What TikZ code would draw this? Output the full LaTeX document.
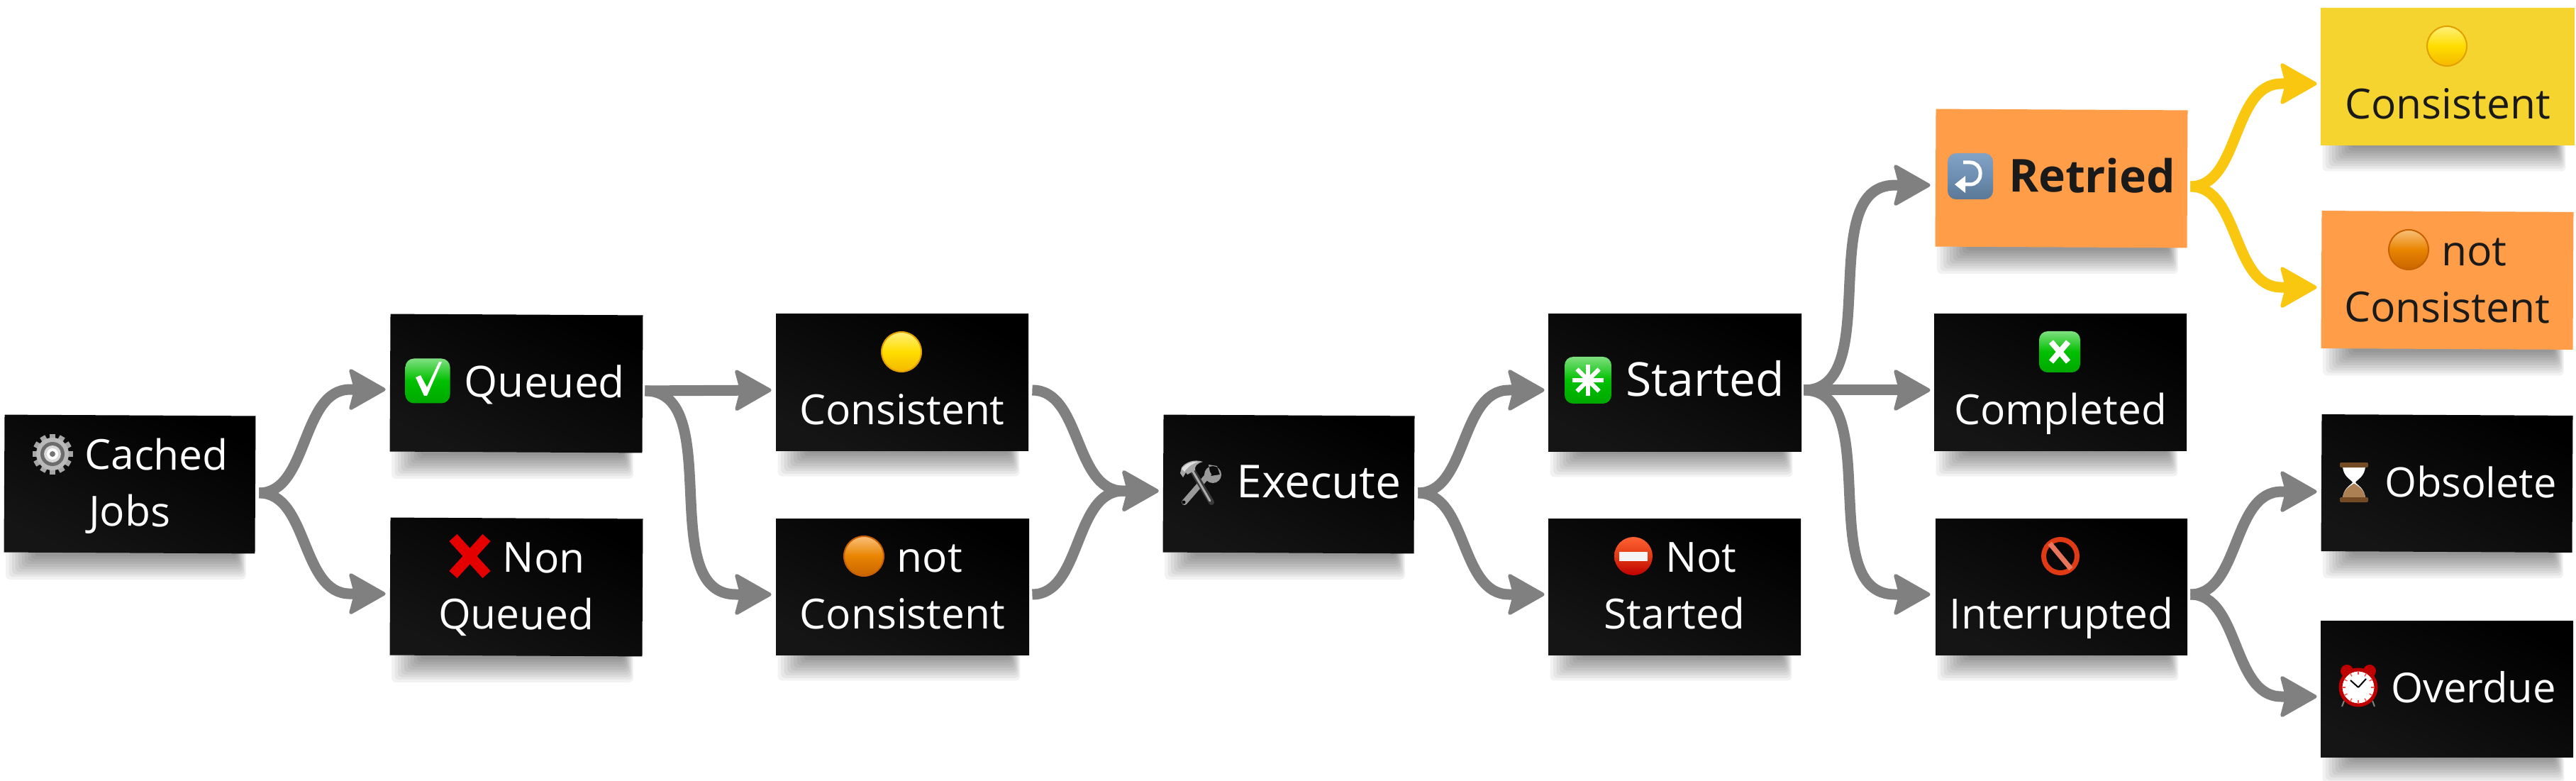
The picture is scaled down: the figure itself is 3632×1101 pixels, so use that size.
\documentclass[tikz,border=0pt]{standalone}
\usepackage{fontspec}
\setmainfont{Open Sans}
\usetikzlibrary{calc,arrows.meta}
\pgfdeclarelayer{bg}
\pgfdeclarelayer{iconlayer}
\pgfsetlayers{bg,main,iconlayer}
\definecolor{conngray}{HTML}{808080}
\definecolor{connyellow}{HTML}{FAC710}
\definecolor{noteorange}{HTML}{FF9D48}
\definecolor{noteyellow}{HTML}{F5D42F}
\definecolor{inkdark}{HTML}{1A1A1A}
\definecolor{boxlight}{HTML}{151515}
\definecolor{gtop}{HTML}{7FE07F}
\definecolor{gmid}{HTML}{00C000}
\definecolor{gbot}{HTML}{00A800}
\definecolor{btop}{HTML}{82A3C6}
\definecolor{bmid}{HTML}{6E8FB2}
\definecolor{bbot}{HTML}{5A7896}
\definecolor{ytop}{HTML}{FFF07A}
\definecolor{ymid}{HTML}{FFDD00}
\definecolor{ybot}{HTML}{F5B800}
\definecolor{yrim}{HTML}{E0A000}
\definecolor{otop}{HTML}{F9C07A}
\definecolor{omid}{HTML}{E88400}
\definecolor{obot}{HTML}{C96500}
\definecolor{orim}{HTML}{C86000}
\definecolor{prored}{HTML}{E03A14}
\newcommand\vs{\rule[-10.25pt]{0pt}{40pt}}
\newcommand\pre[1]{\hspace*{#1pt}}
\tikzset{
  x=0.5pt,y=-0.5pt,
  fs/.style={font=\fontsize{#1pt}{40pt}\selectfont},
  sticky/.style={rectangle,inner sep=0pt,minimum width=177.5pt,minimum height=97pt,align=center,fs=29.3},
  darknote/.style={sticky,text=white,shade,shading=axis,top color=black,bottom color=boxlight,shading angle=-25},
  orangenote/.style={sticky,text=inkdark,fill=noteorange},
  yellownote/.style={sticky,text=inkdark,fill=noteyellow},
  tilt/.style={rotate=-0.3},
  conn/.style={line width=7.5pt,draw=#1,-{Stealth[length=27.5pt,width=31pt,inset=4pt,round,line width=2.5pt]}},
  conn/.default=conngray
}
\newcommand\curveconn[8][conngray]{%
  \draw[conn=#1] ($(#2.east)+(#3,#4)$) .. controls +(#5,0) and ($(#6.west)+(#7,#8)+(-50-#5,0)$) .. ($(#6.west)+(#7,#8)+(-50,0)$) -- ($(#6.west)+(#7,#8)$);}
\newcommand\straightconn[7][conngray]{%
  \draw[conn=#1] ($(#2.east)+(#3,#4)$) -- ($(#5.west)+(#6,#7)$);}
\newcommand\shadowunder[1]{%
  \begin{pgfonlayer}{bg}
  \foreach \i in {1,...,10}{
    \fill[black,opacity=0.05,rounded corners=3pt]
      ($(#1.south west)+(48-4.5*\i,-6)$) rectangle ($(#1.south east)+(-28+1.5*\i,3.6*\i)$);
  }
  \end{pgfonlayer}}
\newcommand\ballicon[6]{%
  \shade[top color=#3,bottom color=#5,middle color=#4,draw=#6,line width=1pt] (#1,#2) circle[radius=28];}
\newcommand\greensquare[3]{%
  \shade[top color=gtop,bottom color=gbot,middle color=gmid,rounded corners=6pt]
    (#1-#3/2,#2-#3/2) rectangle (#1+#3/2,#2+#3/2);}
\begin{document}
\begin{tikzpicture}
\useasboundingbox (0,0) rectangle (3632,1101);
\node[darknote,tilt,minimum width=177pt] (cached) at (183,682.5) {\vs\pre{37.5}Cached\\\vs Jobs};
\node[darknote,tilt,minimum width=178pt,fs=30.2] (queued) at (728,540.5) {\vs\pre{40}Queued};
\node[darknote,tilt,minimum width=178pt] (nonqueued) at (728,827.5) {\vs\pre{38.5}Non\\\vs Queued};
\node[darknote,minimum width=178pt,minimum height=96pt] (cons) at (1272,539) {\vs\\\vs Consistent};
\node[darknote,minimum width=178.5pt,minimum height=96pt] (ncons) at (1272.5,827) {\vs\pre{38.5}not\\\vs Consistent};
\node[darknote,tilt,minimum width=177pt,fs=32] (execute) at (1817,682.5) {\vs\pre{42.5}Execute};
\node[darknote,minimum width=178.5pt,minimum height=96.5pt,fs=33] (started) at (2361.5,539.5) {\vs\pre{42.5}Started};
\node[darknote,minimum width=178pt,minimum height=96pt] (nstarted) at (2361,827) {\vs\pre{37.5}Not\\\vs Started};
\node[orangenote,tilt,minimum width=177.5pt,fs=32] (retried) at (2906.5,251.5) {\vs\pre{43}\textbf{Retried}};
\node[darknote,minimum width=178pt,minimum height=96pt] (completed) at (2905,539) {\vs\\\vs Completed};
\node[darknote,minimum width=177.5pt,minimum height=96pt] (interrupted) at (2906.5,827) {\vs\\\vs Interrupted};
\node[yellownote,minimum width=179pt] (ycons) at (3451,108) {\vs\\\vs Consistent};
\node[orangenote,tilt,minimum width=177.5pt] (ocons) at (3450.5,395) {\vs\pre{38}not\\\vs Consistent};
\node[darknote,tilt,minimum width=177pt,minimum height=96.5pt,fs=28.8] (obsolete) at (3450,681.5) {\vs\pre{33.5}Obsolete};
\node[darknote,minimum width=178pt,minimum height=96pt,fs=29] (overdue) at (3450,971) {\vs\pre{37.5}Overdue};

\foreach \n in {cached,queued,nonqueued,cons,ncons,execute,started,nstarted,retried,completed,interrupted,ycons,ocons,obsolete,overdue}{\shadowunder{\n}}

\curveconn{cached}{5}{11.5}{70}{queued}{-6}{9.5}
\curveconn{cached}{5}{11.5}{70}{nonqueued}{-6}{10.5}
\straightconn{queued}{3}{9.5}{cons}{-6}{11}
\curveconn{queued}{3}{9.5}{115}{ncons}{-6}{11}
\curveconn{cons}{5}{11}{70}{execute}{-6}{10.5}
\curveconn{ncons}{4}{11}{70}{execute}{-6}{10.5}
\curveconn{execute}{5}{11.5}{70}{started}{-5}{10.5}
\curveconn{execute}{5}{11.5}{70}{nstarted}{-5}{11}
\curveconn{started}{3}{10.5}{115}{retried}{-7}{10.5}
\straightconn{started}{3}{10.5}{completed}{-5}{11}
\curveconn{started}{3}{10.5}{115}{interrupted}{-7}{11}
\curveconn[connyellow]{retried}{4}{10.5}{70}{ycons}{-5}{10}
\curveconn[connyellow]{retried}{4}{10.5}{70}{ocons}{-6}{11}
\curveconn{interrupted}{4}{11}{70}{obsolete}{-6}{12.5}
\curveconn{interrupted}{4}{11}{70}{overdue}{-5}{11}

\begin{pgfonlayer}{iconlayer}
% gear
\begin{scope}[shift={(74,640)}]
  \foreach \a in {0,30,...,330}{\fill[gray!70,rotate=\a] (-4,-28.5) rectangle (4,-20);}
  \fill[gray!55] (0,0) circle[radius=23];
  \fill[gray!85!black] (0,0) circle[radius=17];
  \fill[gray!30] (0,0) circle[radius=12];
  \fill[white] (0,0) circle[radius=8];
  \fill[gray!90!black] (0,0) circle[radius=4];
\end{scope}
% check
\greensquare{603}{537}{63}
\fill[white] (586,532) -- (593,529) -- (602,546) -- (619,510) -- (623,510) -- (602,558) -- (598,558) -- cycle;
% red cross
\draw[red!90!black,line width=7.5pt] (639,758) -- (686,810);
\draw[red!90!black,line width=7.5pt] (686,758) -- (639,810);
% balls
\ballicon{1271}{496}{ytop}{ymid}{ybot}{yrim}
\ballicon{1218}{784}{otop}{omid}{obot}{orim}
\ballicon{3450}{65}{ytop}{ymid}{ybot}{yrim}
\ballicon{3396}{352}{otop}{omid}{obot}{orim}
% tools
\begin{scope}[shift={(1690,681)}]
  % wrench
  \draw[gray!80,line width=4pt,line cap=round] (-20,27) -- (14,-12);
  \fill[gray!80,even odd rule] (20,-12) circle[radius=12] (26,-24) -- (14,-26) -- (17,-10) -- (30,-12) -- cycle;
  \fill[black] (-21,27) circle[radius=2.5];
  % hammer
  \draw[gray!45!black,line width=4pt,line cap=round] (18,27) -- (-10,-20);
  \draw[gray!65,line width=1.5pt,line cap=round] (16,25) -- (-9,-18);
  \fill[gray!70] (-26,-14) -- (-24,-22) .. controls (-18,-30) and (-6,-34) .. (6,-30) .. controls (-2,-28) and (-6,-24) .. (-5,-18) -- (-16,-12) -- (-18,-15) -- (-22,-8) -- cycle;
  \fill[gray!25] (-24,-20) .. controls (-18,-28) and (-8,-31) .. (0,-30) .. controls (-8,-28) and (-14,-24) .. (-20,-16) -- cycle;
\end{scope}
% started
\greensquare{2239}{536}{66}
\begin{scope}[shift={(2239,536)}]
  \foreach \a in {0,45,...,135}{\draw[white,line width=3pt,rotate=\a] (0,-22) -- (0,22);}
\end{scope}
% no entry
\shade[top color=red!55!orange!80!white,bottom color=red!75!black,middle color=prored] (2303,784) circle[radius=27];
\fill[white!92!gray] (2283,778) rectangle (2323,791);
% retried
\shade[top color=btop,bottom color=bbot,middle color=bmid,rounded corners=6pt] (2746,216) rectangle (2810,281);
\draw[white,line width=2.5pt,rounded corners=7pt] (2768,229) -- (2792,229) -- (2792,260) -- (2768,260);
\fill[white] (2756,260) -- (2771,248) -- (2771,272) -- cycle;
% completed
\greensquare{2904}{496}{58}
\draw[white,line width=4pt] (2892,482) -- (2916,510);
\draw[white,line width=4pt] (2916,482) -- (2892,510);
% interrupted
\draw[prored,line width=3.5pt] (2905,784) circle[radius=23.5];
\draw[prored!70!white,line width=3.5pt] (2890,766) -- (2920,802);
% hourglass
\begin{scope}[shift={(3319,680)}]
  \fill[white] (-16,-24) .. controls (-16,-8) and (-4,-4) .. (-2,0) .. controls (-4,4) and (-16,8) .. (-16,24)
     -- (16,24) .. controls (16,8) and (4,4) .. (2,0) .. controls (4,-4) and (16,-8) .. (16,-24) -- cycle;
  \fill[brown!70!gray] (-1,2) .. controls (-6,6) and (-16,10) .. (-16,24) -- (16,24) .. controls (16,10) and (6,6) .. (1,2) -- cycle;
  \fill[brown!60!black,rounded corners=1pt] (-20,-28) rectangle (20,-21);
  \fill[brown!60!black,rounded corners=1pt] (-20,21) rectangle (20,28);
\end{scope}
% clock
\begin{scope}[shift={(3325,968)}]
  \fill[red!75!black] (-16,-22) circle[radius=9];
  \fill[red!75!black] (16,-22) circle[radius=9];
  \draw[gray,line width=1pt] (-20,20) -- (-23,28) (20,20) -- (23,28);
  \fill[white] (0,1) circle[radius=25];
  \draw[red!75!black,line width=2.5pt] (0,1) circle[radius=25];
  \draw[black,line width=1pt] (0,1) -- (-11,-9) (0,1) -- (11,-11);
  \foreach \a in {0,30,...,330}{\draw[red!70,line width=.7pt,rotate around={\a:(0,1)}] (0,-22) -- (0,-17);}
\end{scope}
\end{pgfonlayer}
\end{tikzpicture}
\end{document}
